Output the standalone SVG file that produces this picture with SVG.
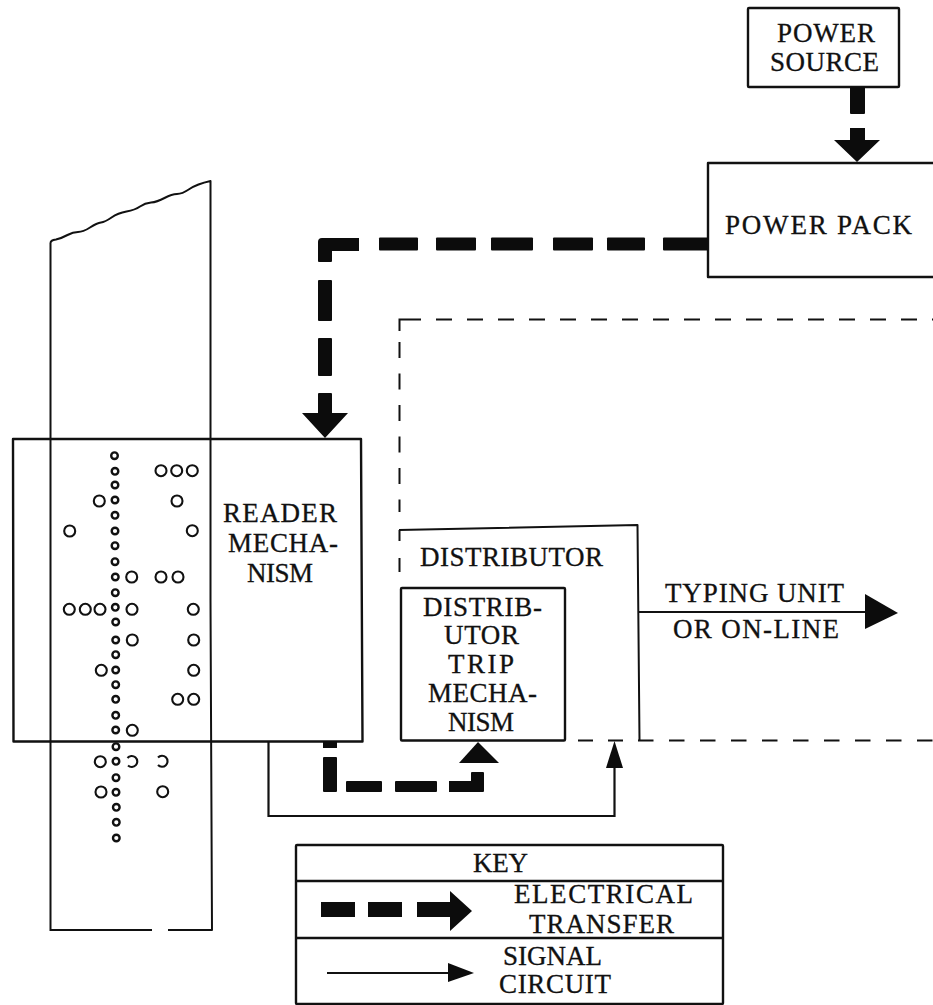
<svg xmlns="http://www.w3.org/2000/svg" width="933" height="1005" viewBox="0 0 933 1005">
<style>
.box{fill:none;stroke:#111;stroke-width:2.4;stroke-linejoin:round}
.thin{fill:none;stroke:#111;stroke-width:2;stroke-linejoin:round}
.dash{fill:none;stroke:#111;stroke-width:2}
.sig{fill:none;stroke:#111;stroke-width:2.2}
.fill{fill:#0c0c0c;stroke:none}
.t{font-family:"Liberation Serif","Times New Roman",serif;font-size:27px;fill:#111;stroke:#111;stroke-width:.3}
.big{fill:none;stroke:#111;stroke-width:2.1}
.small{fill:none;stroke:#111;stroke-width:2.4}
</style>
<rect width="933" height="1005" fill="#fff"/>
<g id="tape">
<path class="thin" d="M50.500 931V244Q50 240 56 239.500Q62 238 67.500 235Q73 232 78 232Q83 232 90 227.500Q97 223 101 222.500Q105 222 111.500 217.500Q118 213 126.500 211.500Q135 210 140 206.500Q145 203 151 202.500Q157 202 164.500 198Q172 194 177 194Q182 194 189.500 189Q197 184 210.500 181V600"/>
<path class="thin" d="M210.500 600L212 930H168M152 930H50.500"/>
<g id="sprocket-holes">
<circle class="small" cx="114.500" cy="455.700" r="3.300"/><circle class="small" cx="115" cy="471.300" r="3.300"/><circle class="small" cx="115" cy="485" r="3.300"/><circle class="small" cx="115" cy="500" r="3.300"/><circle class="small" cx="115" cy="515.300" r="3.300"/><circle class="small" cx="115" cy="531" r="3.300"/><circle class="small" cx="115" cy="545.700" r="3.300"/><circle class="small" cx="115" cy="561.700" r="3.300"/><circle class="small" cx="115.300" cy="577" r="3.300"/><circle class="small" cx="115.300" cy="592.700" r="3.300"/><circle class="small" cx="115.300" cy="607.300" r="3.300"/><circle class="small" cx="115.700" cy="622" r="3.300"/><circle class="small" cx="115.700" cy="640" r="3.300"/><circle class="small" cx="115.700" cy="654.700" r="3.300"/><circle class="small" cx="115.700" cy="670" r="3.300"/><circle class="small" cx="115.700" cy="684.700" r="3.300"/><circle class="small" cx="115.700" cy="699.300" r="3.300"/><circle class="small" cx="115.700" cy="715.300" r="3.300"/><circle class="small" cx="115.700" cy="730" r="3.300"/><circle class="small" cx="116" cy="746.700" r="3.300"/><circle class="small" cx="116" cy="761.300" r="3.300"/><circle class="small" cx="116" cy="777.700" r="3.300"/><circle class="small" cx="116" cy="792.300" r="3.300"/><circle class="small" cx="116.300" cy="807.300" r="3.300"/><circle class="small" cx="116.300" cy="822.300" r="3.300"/><circle class="small" cx="116.300" cy="838" r="3.300"/>
</g>
<g id="code-holes">
<circle class="big" cx="161" cy="470.700" r="5.500"/><circle class="big" cx="176.700" cy="470.700" r="5.500"/><circle class="big" cx="192.300" cy="470.700" r="5.500"/>
<circle class="big" cx="99.300" cy="501" r="5.500"/><circle class="big" cx="177" cy="501" r="5.500"/>
<circle class="big" cx="69.700" cy="531" r="5.500"/><circle class="big" cx="192.300" cy="530.700" r="5.500"/>
<circle class="big" cx="131.700" cy="577" r="5.500"/><circle class="big" cx="161" cy="577" r="5.500"/><circle class="big" cx="178" cy="577" r="5.500"/>
<circle class="big" cx="69.300" cy="609.300" r="5.500"/><circle class="big" cx="85.300" cy="609.300" r="5.500"/><circle class="big" cx="100" cy="609.300" r="5.500"/><circle class="big" cx="132" cy="609.300" r="5.500"/><circle class="big" cx="193.300" cy="609.300" r="5.500"/>
<circle class="big" cx="132.300" cy="640" r="5.500"/><circle class="big" cx="193.700" cy="640" r="5.500"/>
<circle class="big" cx="101.300" cy="670.300" r="5.500"/><circle class="big" cx="193.700" cy="670.300" r="5.500"/>
<circle class="big" cx="177.700" cy="699.300" r="5.500"/><circle class="big" cx="193.700" cy="699.300" r="5.500"/>
<circle class="big" cx="132.300" cy="730.300" r="5.500"/>
<circle class="big" cx="100.300" cy="761.700" r="5.500"/><path class="big" d="M127.500 758A5.500 5.500 0 1 1 128 765.500"/><path class="big" d="M158 757.500A5.500 5.500 0 1 1 158 765"/>
<circle class="big" cx="101" cy="792" r="5.500"/><circle class="big" cx="162.700" cy="791.700" r="5.500"/>
</g>
</g>
<g id="power-source"><rect class="box" x="748" y="8" width="151" height="79" rx="1"/>
<text class="t" x="777" y="42" textLength="98">POWER</text><text class="t" x="770" y="71" textLength="109">SOURCE</text></g>
<g id="power-pack"><path class="box" d="M933 163H708V277H933"/>
<text class="t" x="725" y="234" textLength="187">POWER PACK</text></g>
<g id="reader-mechanism"><path class="box" d="M13 439H361L362.500 741.500H13.500Z"/>
<text class="t" x="223" y="522" textLength="114">READER</text><text class="t" x="228" y="552" textLength="110">MECHA-</text><text class="t" x="247" y="582" textLength="66">NISM</text></g>
<g id="distributor"><path class="thin" d="M399 530L637.500 525L639.500 740.500"/>
<text class="t" x="420" y="566" textLength="183">DISTRIBUTOR</text></g>
<g id="distributor-trip"><rect class="box" x="401" y="588" width="164" height="152.500" rx="1"/>
<text class="t" x="423" y="616" textLength="119">DISTRIB-</text><text class="t" x="444" y="644" textLength="75">UTOR</text><text class="t" x="448" y="673" textLength="66">TRIP</text><text class="t" x="428" y="702" textLength="109">MECHA-</text><text class="t" x="448" y="731" textLength="66">NISM</text></g>
<g id="typing-unit-label"><text class="t" x="665" y="602" textLength="179">TYPING UNIT</text><text class="t" x="673" y="638" textLength="166">OR ON-LINE</text></g>
<g id="connectors">
<g id="electrical-transfer">
<rect class="fill" x="850" y="87" width="15" height="27" rx="1"/><path class="fill" d="M850 128H865V140H880L857 162L834 140H850Z"/>
<path class="fill" d="M708 237.500V250.500H664Q663 250.500 663 249.500V238.500Q663 237.500 664 237.500Z"/>
<rect class="fill" x="607" y="237.500" width="38" height="13" rx="1"/><rect class="fill" x="553" y="237.500" width="40" height="13" rx="1"/><rect class="fill" x="491" y="237.500" width="42" height="13" rx="1"/><rect class="fill" x="436" y="237.500" width="40" height="13" rx="1"/><rect class="fill" x="379" y="237.500" width="39" height="13" rx="1"/>
<path class="fill" d="M322 238H359V251H332V261Q332 262 331 262H319Q318 262 318 261V242Q318 238 322 238Z"/>
<rect class="fill" x="318" y="280" width="14" height="41" rx="1"/><rect class="fill" x="318" y="338" width="14" height="38" rx="1"/>
<path class="fill" d="M318 394Q318 393 319 393H331Q332 393 332 394V413H348L325 438L302 413H318Z"/>
<path class="fill" d="M323 741H337V748H323Z"/><rect class="fill" x="323" y="757" width="14" height="35" rx="1"/><rect class="fill" x="346" y="781" width="36" height="11" rx="1"/><rect class="fill" x="395" y="781" width="42" height="11" rx="1"/>
<path class="fill" d="M449 781H471V773Q471 772 472 772H483Q484 772 484 773V791Q484 792 483 792H449Z"/>
<path class="fill" d="M478 742L499 763H459Z"/>
</g>
<g id="signal-circuit">
<path class="sig" d="M268.500 741V816H614.500V766"/><path class="fill" d="M614.500 741L623 768H606Z"/>
<path class="sig" d="M639 612H866"/><path class="fill" d="M865 594L898 613L865 629Z"/>
</g>
<g id="dashed-enclosure">
<path class="dash" d="M421 319.500H399.500V331"/>
<path class="dash" stroke-dasharray="16 15" d="M436 319.500H933"/>
<path class="dash" stroke-dasharray="16 15.500" d="M399.500 342V512"/>
<path class="dash" d="M399.500 530V541M399.500 558V572"/>
<path class="dash" d="M578 740.500H593M608 740.500H623"/>
<path class="dash" stroke-dasharray="15.500 15.500" d="M638 740.500H933"/>
</g>
</g>
<g id="key">
<rect class="box" x="296" y="845" width="427" height="159" rx="1"/>
<path class="box" d="M296 881H723M296 938H723"/>
<text class="t" x="473" y="872" textLength="55">KEY</text>
<rect class="fill" x="321" y="902" width="34" height="15"/><rect class="fill" x="368" y="902" width="34" height="15"/>
<path class="fill" d="M417 902H450V891L472 911L450 931V917H417Z"/>
<text class="t" x="514" y="903" textLength="179">ELECTRICAL</text><text class="t" x="529" y="933" textLength="145">TRANSFER</text>
<path class="sig" d="M327 973H450"/><path class="fill" d="M448 963L474 973L448 982Z"/>
<text class="t" x="503" y="965" textLength="99">SIGNAL</text><text class="t" x="499" y="993" textLength="112">CIRCUIT</text>
</g>
</svg>
